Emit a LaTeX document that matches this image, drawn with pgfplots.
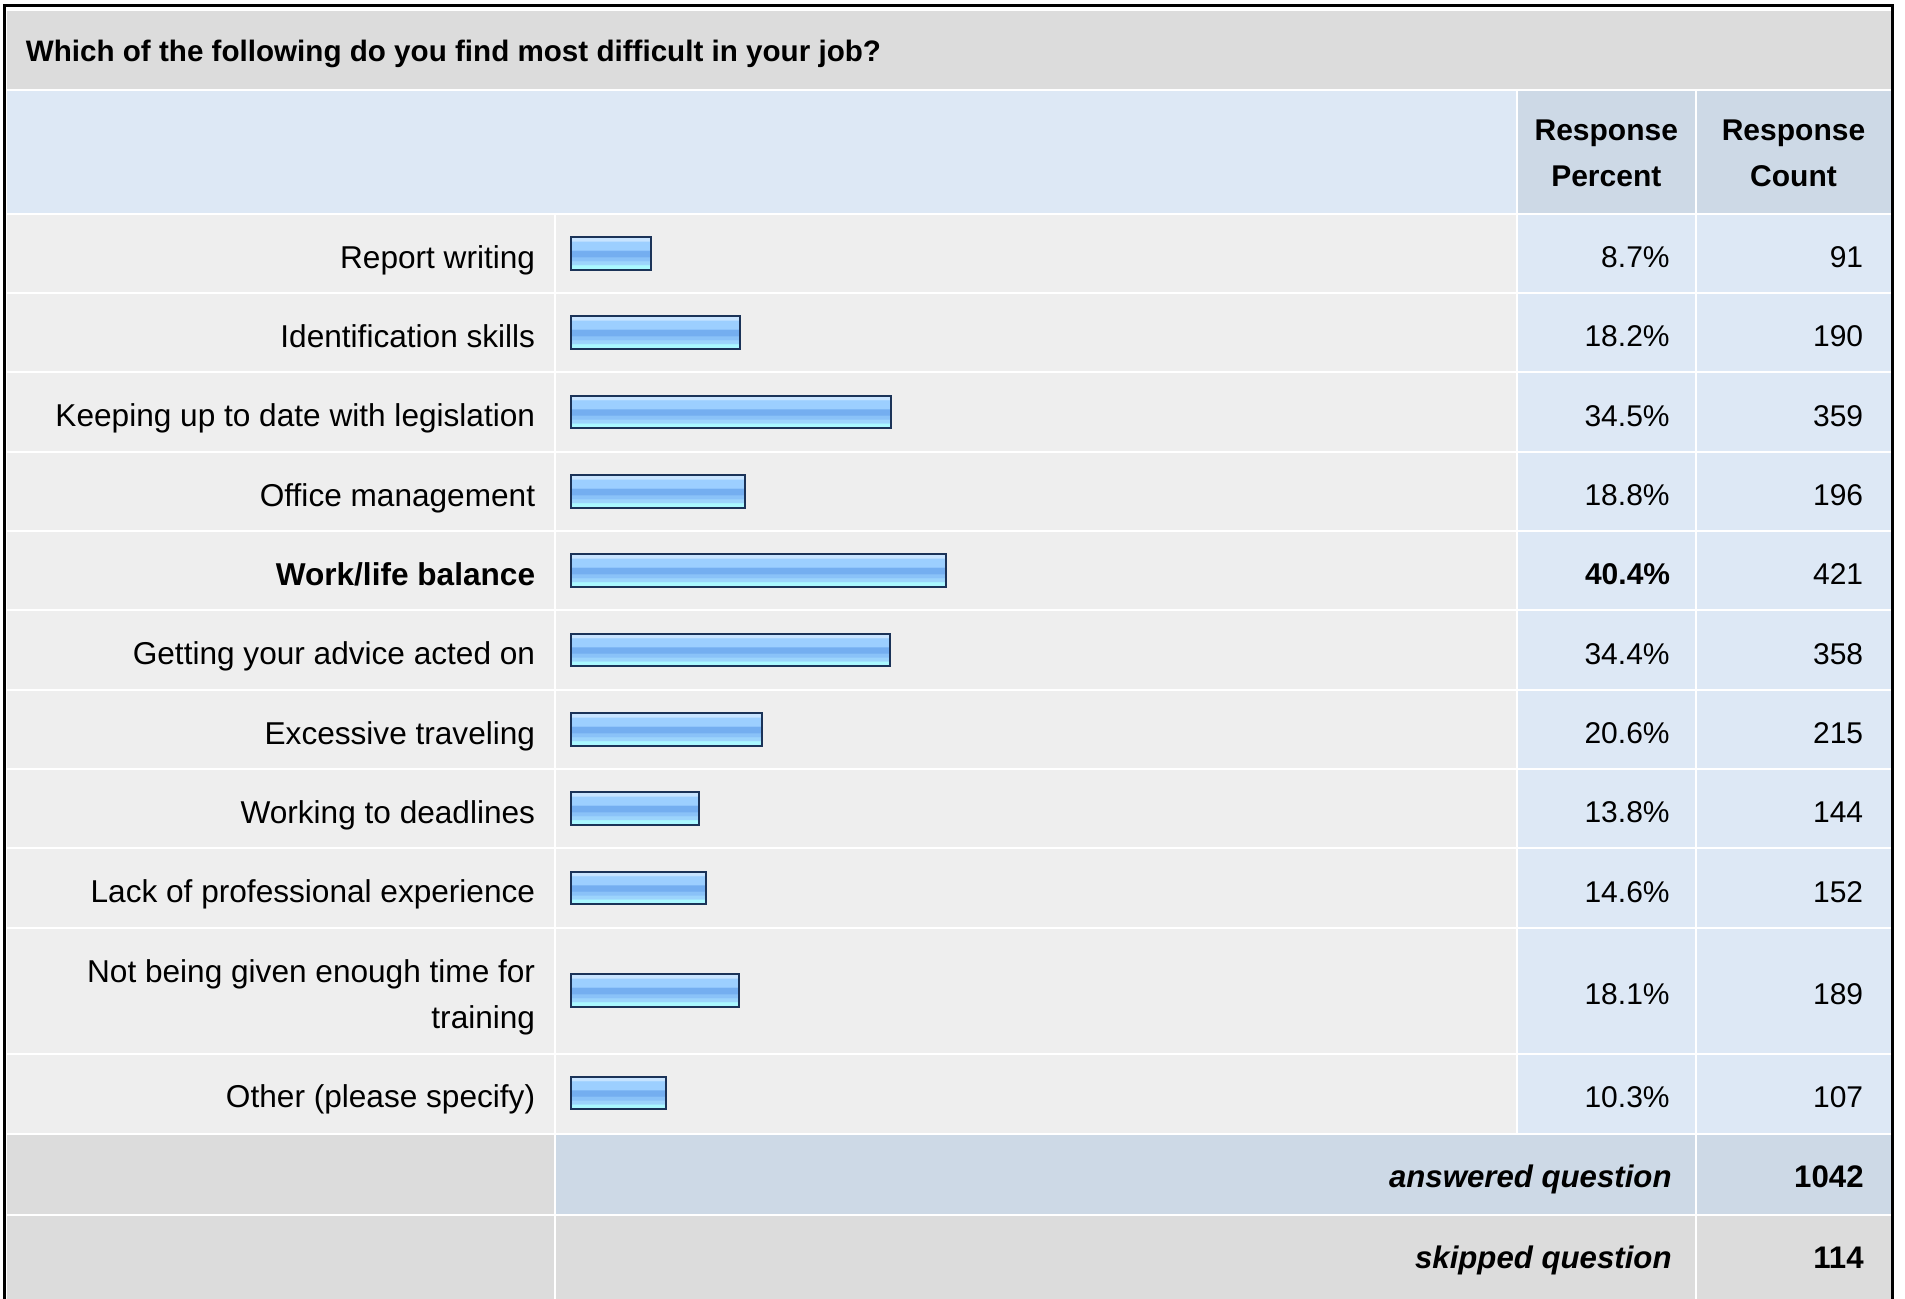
\documentclass[border=0pt]{standalone}
\usepackage{fontspec}
\setmainfont{Liberation Sans}
\usepackage{pgfplots}
\pgfplotsset{compat=1.18}
\definecolor{titlegray}{HTML}{DCDCDC}
\definecolor{hdrblue}{HTML}{DDE8F5}
\definecolor{hdrcell}{HTML}{CDD9E6}
\definecolor{rowgray}{HTML}{EEEEEE}
\definecolor{cellblue}{HTML}{DDE8F5}
\definecolor{barnavy}{HTML}{1B3358}
\definecolor{bcyan}{HTML}{AAF8FF}
\definecolor{blfour}{HTML}{9CD4FC}
\definecolor{blthree}{HTML}{8AC2F8}
\definecolor{bdark}{HTML}{74AEF0}
\definecolor{bmid}{HTML}{9CCFFF}
\definecolor{blight}{HTML}{C8E4FF}
\pgfdeclareverticalshading{barshade}{100bp}{color(0bp)=(bcyan); color(32bp)=(bcyan); color(34bp)=(blfour); color(38bp)=(blfour); color(40bp)=(blthree); color(44bp)=(blthree); color(46bp)=(bdark); color(54bp)=(bdark); color(56bp)=(bmid); color(68bp)=(bmid); color(70bp)=(blight); color(100bp)=(blight)}
\newcommand\lstrut{\rule[-4pt]{0pt}{17pt}}
\newcommand\labfont{\fontsize{15.8pt}{23pt}\selectfont}
\newcommand\numfont{\fontsize{15pt}{23pt}\selectfont}
\newcommand\totfont{\fontsize{15.6pt}{23pt}\selectfont}
\newcommand\hdrfont{\fontsize{15pt}{23pt}\selectfont\bfseries}
\newcommand\titlefont{\fontsize{14.8pt}{20pt}\selectfont\bfseries}
\newcommand\datarow[2]{%
  \fill[rowgray] (7,#1+1) rectangle (553.5,#2-1);
  \fill[rowgray] (555.5,#1+1) rectangle (1515.7,#2-1);
  \fill[cellblue] (1517.7,#1+1) rectangle (1695,#2-1);
  \fill[cellblue] (1697,#1+1) rectangle (1890.8,#2-1);}
\pgfplotsset{onebar/.style={xbar, bar width=16.3pt, bar shift=0pt, draw=barnavy, line width=1pt, shade, shading=barshade}}
\begin{document}
\begin{tikzpicture}
\begin{scope}[x=0.5pt,y=-0.5pt]
\path[use as bounding box] (0,0) rectangle (1905,1298);
\clip (0,0) rectangle (1905,1298);
\fill[white] (0,0) rectangle (1905,1298);
% title band
\fill[titlegray] (7,10.5) rectangle (1890.8,88.5);
% header
\fill[hdrblue] (7,90.5) rectangle (1515.7,213);
\fill[hdrcell] (1517.7,90.5) rectangle (1695,213);
\fill[hdrcell] (1697,90.5) rectangle (1890.8,213);
% data rows
\foreach \a/\b in {214/293,293/372,372/452,452/531,531/610,610/690,690/769,769/848,848/928,928/1053.5,1053.5/1133.5}{\datarow{\a}{\b}}
% answered row
\fill[titlegray] (7,1134.5) rectangle (553.5,1213.5);
\fill[hdrcell] (555.5,1134.5) rectangle (1695,1213.5);
\fill[hdrcell] (1697,1134.5) rectangle (1890.8,1213.5);
% skipped row
\fill[titlegray] (7,1215.5) rectangle (553.5,1310);
\fill[titlegray] (555.5,1215.5) rectangle (1695,1310);
\fill[titlegray] (1697,1215.5) rectangle (1890.8,1310);
% frame
\draw[line width=1.5pt, black] (4.6,5.7) rectangle (1892.6,1330);
% texts
\node[anchor=base west, inner sep=0pt, font=\titlefont] at (25.5,61.5) {Which of the following do you find most difficult in your job?};
\node[anchor=base, inner sep=0pt, font=\hdrfont] at (1606.3,140) {Response};
\node[anchor=base, inner sep=0pt, font=\hdrfont] at (1606.3,186.7) {Percent};
\node[anchor=base, inner sep=0pt, font=\hdrfont] at (1793.5,140) {Response};
\node[anchor=base, inner sep=0pt, font=\hdrfont] at (1793.5,186.7) {Count};
\foreach \c/\p/\n in {253.5/8.7/91,332.5/18.2/190,412/34.5/359,491.5/18.8/196,650/34.4/358,729.5/20.6/215,808.5/13.8/144,888/14.6/152,990.5/18.1/189,1093/10.3/107}{
  \node[anchor=base east, inner sep=0pt, font=\numfont] at (1670,\c+14) {\p\%};
  \node[anchor=base east, inner sep=0pt, font=\numfont] at (1863.5,\c+14) {\n};
}
\node[anchor=base east, inner sep=0pt, font=\numfont\bfseries] at (1670.5,584.5) {40.4\%};
\node[anchor=base east, inner sep=0pt, font=\numfont] at (1863.5,584.5) {421};
\node[anchor=base east, inner sep=0pt, font=\totfont\bfseries\itshape] at (1672,1187) {answered question};
\node[anchor=base east, inner sep=0pt, font=\totfont\bfseries] at (1864,1187) {1042};
\node[anchor=base east, inner sep=0pt, font=\totfont\bfseries\itshape] at (1672,1268) {skipped question};
\node[anchor=base east, inner sep=0pt, font=\totfont\bfseries] at (1864,1268) {114};
\end{scope}
\begin{axis}[
  at={(285.25pt,-107pt)}, anchor=north west,
  scale only axis, width=464.5pt, height=459.5pt,
  xmin=0, xmax=100, ymin=214, ymax=1133, y dir=reverse,
  axis line style={draw=none}, tick style={draw=none}, major tick length=0pt,
  xtick=\empty,
  ytick={253.5,332.5,412,491.5,570.5,650,729.5,808.5,888,990.5,1093},
  yticklabels={{\lstrut Report writing},{\lstrut Identification skills},{\lstrut Keeping up to date with legislation},{\lstrut Office management},{\lstrut\textbf{Work/life balance}},{\lstrut Getting your advice acted on},{\lstrut Excessive traveling},{\lstrut Working to deadlines},{\lstrut Lack of professional experience},{\lstrut Not being given enough time for\\\lstrut training},{\lstrut Other (please specify)}},
  yticklabel style={anchor=east, inner sep=0pt, align=right, font=\labfont, xshift=-17.5pt, yshift=-2.8pt},
  clip=false,
]
\addplot[onebar] coordinates {(8.7,253.5)};
\addplot[onebar] coordinates {(18.2,332.5)};
\addplot[onebar] coordinates {(34.5,412)};
\addplot[onebar] coordinates {(18.8,491.5)};
\addplot[onebar] coordinates {(40.4,570.5)};
\addplot[onebar] coordinates {(34.4,650)};
\addplot[onebar] coordinates {(20.6,729.5)};
\addplot[onebar] coordinates {(13.8,808.5)};
\addplot[onebar] coordinates {(14.6,888)};
\addplot[onebar] coordinates {(18.1,990.5)};
\addplot[onebar] coordinates {(10.3,1093)};
\end{axis}
\end{tikzpicture}
\end{document}
